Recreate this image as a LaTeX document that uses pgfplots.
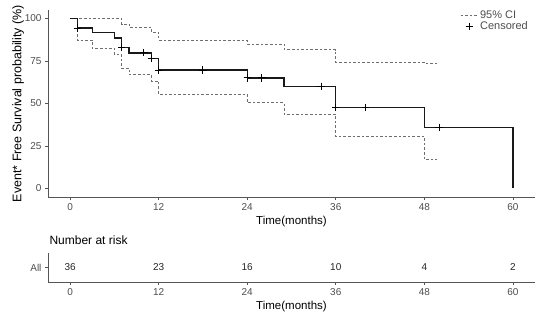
\documentclass[border=0pt]{standalone}
\usepackage{pgfplots}
\pgfplotsset{compat=1.18}
\usepackage{fontspec}
\setmainfont{Liberation Sans}
\definecolor{axgray}{HTML}{555555}
\definecolor{tkgray}{HTML}{4D4D4D}
\definecolor{cigray}{HTML}{6E6E6E}
\begin{document}
\begin{tikzpicture}
\useasboundingbox (0pt,0pt) rectangle (550pt,-320pt);
\pgfplotsset{km/.style={
  scale only axis, width=487pt,
  xmin=-3, xmax=63,
  axis lines=left,
  axis line style={-, axgray, line width=0.7pt},
  xtick={0,12,24,36,48,60},
  tick align=outside, major tick length=3pt,
  tick style={axgray, line width=0.6pt},
  ticklabel style={font=\fontsize{10}{12}\selectfont, text=tkgray},
  /pgf/number format/assume math mode=true,
  xlabel={Time(months)},
  xlabel style={font=\fontsize{11.5}{13}\selectfont, yshift=1pt},
  clip=false,
}}
% ---------- main KM plot ----------
\begin{axis}[km,
  at={(48pt,-10pt)}, anchor=north west,
  height=187pt,
  ymin=-5, ymax=105,
  ytick={0,25,50,75,100},
  ylabel={Event* Free Survival probability (\%)},
  ylabel style={font=\fontsize{12.5}{14}\selectfont, yshift=-6pt},
  legend style={draw=none, fill=none, at={(1,1)}, anchor=north east,
    font=\fontsize{11}{12}\selectfont, text=tkgray, row sep=-3pt, yshift=3pt, xshift=-2pt},
  legend cell align=left,
]
\addlegendimage{cigray, line width=0.7pt, dash pattern=on 2.6pt off 2pt}
\addlegendentry{95\% CI}
\addlegendimage{only marks, mark=+, mark size=3.6pt, black, line width=1pt}
\addlegendentry{Censored}
% upper CI
\addplot[const plot, cigray, line width=0.7pt, dash pattern=on 2.6pt off 2pt, forget plot] coordinates {
 (0,100) (7,96.5) (8,94.8) (11,92.0) (12,87.3) (24,85.0) (29,81.7) (36,74.4) (48,73.8) (49.7,73.8)};
% lower CI
\addplot[const plot, cigray, line width=0.7pt, dash pattern=on 2.6pt off 2pt, forget plot] coordinates {
 (0,100) (1,87.2) (3,82.4) (6,78.7) (7,70.8) (8,66.9) (11,63.3) (12,55.5) (24,50.5) (29,43.6) (36,30.8) (48,17.2) (49.7,17.2)};
% survival curve
\addplot[const plot, black!90, line width=1.4pt, forget plot] coordinates {
 (0,100) (1,94.4) (3,91.7) (6,88.6) (7,82.8) (8,79.8) (11,76.5) (12,69.7) (24,65.0) (29,60.0) (36,47.8) (48,36.0) (60,0)};
% censor marks
\addplot[only marks, mark=+, mark size=3.6pt, black, line width=1pt, forget plot] coordinates {
 (1,94.4) (7,82.8) (10,79.8) (11,76.5) (12,69.7) (18,69.7) (24,65.0) (26,65.0) (34,60.0) (36,47.8) (40,47.8) (50,36.0)};
\end{axis}
% ---------- risk table ----------
\begin{axis}[km,
  at={(48pt,-253pt)}, anchor=north west,
  height=29pt,
  ymin=0, ymax=1,
  ytick={0.5}, yticklabels={All},
  title={Number at risk},
  title style={font=\fontsize{12}{14}\selectfont, at={(0,1)}, anchor=south west, xshift=-2pt, yshift=-1pt},
]
\addplot[draw=none, mark=none, nodes near coords, point meta=explicit symbolic,
  every node near coord/.append style={anchor=center, font=\fontsize{10}{12}\selectfont, text=black!85}]
 coordinates {(0,0.5)[36] (12,0.5)[23] (24,0.5)[16] (36,0.5)[10] (48,0.5)[4] (60,0.5)[2]};
\end{axis}
\end{tikzpicture}
\end{document}
